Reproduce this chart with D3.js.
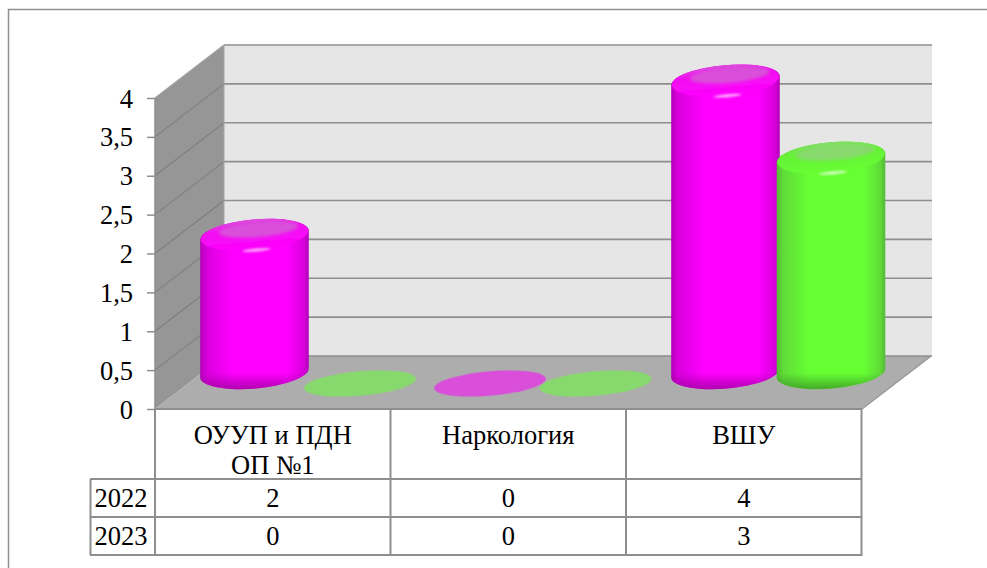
<!DOCTYPE html>
<html><head><meta charset="utf-8">
<script src="https://cdn.jsdelivr.net/npm/d3@7"></script>
<style>html,body{margin:0;padding:0;background:#fff}svg{display:block}text{font-family:"Liberation Serif",serif;fill:#000}</style>
</head><body><svg id="c" width="987" height="568"></svg>
<script>
const categories = [["ОУУП и ПДН","ОП №1"],["Наркология"],["ВШУ"]];
const seriesNames = ["2022","2023"];
const values2022 = [2,0,4];
const values2023 = [0,0,3];
const tickValues = [0,0.5,1,1.5,2,2.5,3,3.5,4];

(function(){
const seriesData = [values2022, values2023];
const FS = 26.5;
const palette = [
  {mid:"#ff00ff",edge:"#b400b8",edge2:"#d800dc",rim:"#f010f0",cap:"#d94fd9",low:"#a000a0",hi:"#ffb8ff"},
  {mid:"#66ff33",edge:"#55b836",edge2:"#60dc38",rim:"#66f035",cap:"#87d96d",low:"#3f9a28",hi:"#dcffcc"}
];
const F = {x:155,y:409}, D = {x:69,y:-53}, R = 862;
const svg = d3.select("#c");
const defs = svg.append("defs");
defs.append("filter").attr("id","soft").attr("x","-20%").attr("y","-20%").attr("width","140%").attr("height","140%")
  .append("feGaussianBlur").attr("stdDeviation",0.7);
defs.append("filter").attr("id","softer").attr("x","-30%").attr("y","-200%").attr("width","160%").attr("height","500%")
  .append("feGaussianBlur").attr("stdDeviation",1.0);
defs.append("filter").attr("id","capblur").attr("x","-20%").attr("y","-40%").attr("width","140%").attr("height","180%")
  .append("feGaussianBlur").attr("stdDeviation",1.4);
palette.forEach((p,i)=>{
  const g = defs.append("linearGradient").attr("id","body"+i);
  [[0,p.edge],[0.06,p.edge2],[0.3,p.mid],[0.8,p.mid],[0.95,p.edge2],[1,p.edge]].forEach(s=>g.append("stop").attr("offset",s[0]).attr("stop-color",s[1]));
  const b = defs.append("linearGradient").attr("id","foot"+i).attr("x1",0).attr("x2",0).attr("y1",0).attr("y2",1);
  [[0,p.low,0],[0.62,p.low,0],[1,p.low,0.85]].forEach(s=>b.append("stop").attr("offset",s[0]).attr("stop-color",s[1]).attr("stop-opacity",s[2]));
  const c = defs.append("linearGradient").attr("id","cap"+i).attr("x1",0).attr("x2",0).attr("y1",0).attr("y2",1);
  [[0,p.cap],[0.3,p.rim],[1,p.mid]].forEach(s=>c.append("stop").attr("offset",s[0]).attr("stop-color",s[1]));
});

// outer frame (only top and left are visible)
svg.append("path").attr("d","M8.5,568V9.5H987").attr("fill","none").attr("stroke","#8f8f8f").attr("stroke-width",1.5);

const y = d3.scaleLinear().domain([0,4]).range([F.y,98]);
const lineC = "#8e8e8e";

// walls and floor
const yMax = y(4), yMin = y(0);
svg.append("rect").attr("x",F.x+D.x).attr("y",yMax+D.y).attr("width",R-F.x+1).attr("height",yMin-yMax).attr("fill","#e6e6e6");
svg.append("path").attr("d",d3.line()([[F.x,yMax],[F.x+D.x,yMax+D.y],[F.x+D.x,yMin+D.y],[F.x,yMin]])).attr("fill","#969696");
svg.append("path").attr("d",d3.line()([[F.x,yMin],[F.x+D.x,yMin+D.y],[R+D.x+1,yMin+D.y],[R,yMin]])).attr("fill","#adadad");

// gridlines
tickValues.forEach(v=>{
  svg.append("line").attr("x1",F.x+D.x).attr("x2",R+D.x+1).attr("y1",y(v)+D.y).attr("y2",y(v)+D.y).attr("stroke",lineC).attr("stroke-width",1.6);
  if(v>0) svg.append("line").attr("x1",F.x).attr("x2",F.x+D.x).attr("y1",y(v)).attr("y2",y(v)+D.y).attr("stroke",v===4?"#a0a0a0":"#7f7f7f").attr("stroke-width",1.2);
});
svg.append("line").attr("x1",F.x+D.x).attr("x2",F.x+D.x).attr("y1",yMax+D.y).attr("y2",yMin+D.y).attr("stroke","#a6a6a6").attr("stroke-width",1);
svg.append("line").attr("x1",R).attr("x2",R+D.x).attr("y1",yMin).attr("y2",yMin+D.y).attr("stroke","#9a9a9a").attr("stroke-width",1.5);

// y axis
const ax = svg.append("g").attr("transform",`translate(${F.x},0)`)
  .call(d3.axisLeft(y).tickValues(tickValues).tickSize(8).tickPadding(14).tickFormat(d=>String(d).replace(".",",")));
ax.selectAll("line").attr("stroke",lineC).attr("stroke-width",1.5);
ax.select(".domain").attr("d",`M0,${yMax}V${yMin}`).attr("stroke",lineC).attr("stroke-width",1.5);
ax.selectAll("text").attr("font-family","Liberation Serif").attr("font-size",FS).attr("fill","#000").attr("dy","0.34em");

// cylinders
const xCat = d3.scaleBand().domain(d3.range(categories.length)).range([189.5,896]);
const xSer = d3.scaleBand().domain(d3.range(seriesNames.length)).range([0,xCat.bandwidth()]).paddingInner(0).paddingOuter(0.116);
const yTop = d3.scaleLinear().domain([0,2,4]).range([383.5,235,80.7]);
const foot = 373, rx = 54.5, ry = 15.6, tilt = 5;
const s = Math.sin(tilt*Math.PI/180)*rx, c = Math.cos(tilt*Math.PI/180)*rx;
categories.forEach((_,ci)=>{
  seriesData.forEach((vals,si)=>{
    const v = vals[ci], cx = xCat(ci)+xSer(si)+xSer.bandwidth()/2, cy = yTop(v), p = palette[si];
    if(v===0){
      svg.append("ellipse").attr("cx",0).attr("cy",0).attr("rx",56).attr("ry",12.2)
        .attr("transform",`translate(${cx},${cy}) rotate(${-tilt})`).attr("fill",p.cap).attr("filter","url(#soft)");
      return;
    }
    const g = svg.append("g").attr("filter","url(#soft)");
    const body = `M${cx-c},${cy+s}A${rx},${ry} ${-tilt} 0 1 ${cx+c},${cy-s}L${cx+c},${foot-s}A${rx},${ry} ${-tilt} 0 1 ${cx-c},${foot+s}Z`;
    g.append("path").attr("d",body).attr("fill",`url(#body${si})`);
    const fh = `M${cx-c},${foot+s-22}L${cx+c},${foot-s-22}L${cx+c},${foot-s}A${rx},${ry} ${-tilt} 0 1 ${cx-c},${foot+s}Z`;
    g.append("path").attr("d",fh).attr("fill",`url(#foot${si})`);
    g.append("ellipse").attr("cx",0).attr("cy",0).attr("rx",rx-0.5).attr("ry",ry)
      .attr("transform",`translate(${cx},${cy}) rotate(${-tilt})`).attr("fill",`url(#cap${si})`);
    svg.append("ellipse").attr("cx",0).attr("cy",0).attr("rx",40).attr("ry",7.5)
      .attr("transform",`translate(${cx+4},${cy-5.5}) rotate(${-tilt})`).attr("fill",p.cap).attr("filter","url(#capblur)");
    svg.append("ellipse").attr("cx",0).attr("cy",0).attr("rx",14).attr("ry",1.4)
      .attr("transform",`translate(${cx+2},${cy+15}) rotate(${-tilt})`).attr("fill",p.hi).attr("filter","url(#softer)");
  });
});

// data table
const xT = d3.scaleBand().domain(d3.range(categories.length)).range([F.x,R-0.5]);
const rowY = [F.y,479,517,555], leftX = 90;
const tl = svg.append("g").attr("stroke",lineC).attr("stroke-width",2).attr("fill","none");
d3.range(categories.length+1).forEach(i=>{
  const x = F.x+i*xT.bandwidth();
  tl.append("line").attr("x1",x).attr("x2",x).attr("y1",rowY[0]).attr("y2",rowY[3]+1);
});
tl.append("line").attr("x1",F.x).attr("x2",R).attr("y1",rowY[0]).attr("y2",rowY[0]);
[1,2,3].forEach(r=>tl.append("line").attr("x1",leftX).attr("x2",R).attr("y1",rowY[r]).attr("y2",rowY[r]));
tl.append("line").attr("x1",leftX+0.5).attr("x2",leftX+0.5).attr("y1",rowY[1]).attr("y2",rowY[3]);

categories.forEach((lines,i)=>{
  const x = xT(i)+xT.bandwidth()/2;
  lines.forEach((t,j)=>svg.append("text").attr("x",x).attr("y",444+j*30).attr("text-anchor","middle").attr("font-size",FS).text(t));
});
seriesNames.forEach((n,si)=>{
  const by = [507,545][si];
  svg.append("text").attr("x",121).attr("y",by).attr("text-anchor","middle").attr("font-size",FS).text(n);
  seriesData[si].forEach((v,i)=>svg.append("text").attr("x",xT(i)+xT.bandwidth()/2).attr("y",by).attr("text-anchor","middle").attr("font-size",FS).text(v));
});
})();
</script></body></html>
